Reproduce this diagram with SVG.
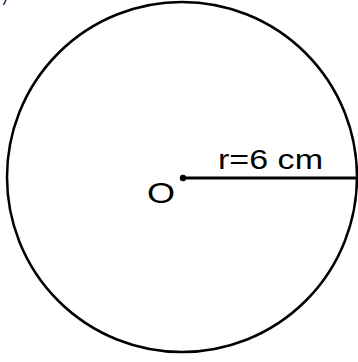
<svg xmlns="http://www.w3.org/2000/svg" width="358" height="362" viewBox="0 0 358 362">
<style>
.lbl{font-family:"Liberation Sans",Arial,sans-serif;fill:#000}
</style>
<rect width="358" height="362" fill="#fff"/>
<g id="circle">
<circle cx="182" cy="177" r="175" fill="none" stroke="#000" stroke-width="2.5"/>
</g>
<g id="connectors">
<line x1="183" y1="178" x2="358" y2="178" stroke="#000" stroke-width="3"/>
<line x1="6" y1="0" x2="3.5" y2="5" stroke="#1a2a60" stroke-width="1.5"/>
</g>
<g id="center">
<circle cx="183" cy="178" r="3.2" fill="#000"/>
<text class="lbl" x="147" y="203" font-size="29" textLength="28" lengthAdjust="spacingAndGlyphs">O</text>
</g>
<g id="radius-label">
<text class="lbl" x="218" y="169" font-size="27" textLength="105" lengthAdjust="spacingAndGlyphs">r=6 cm</text>
</g>
</svg>
